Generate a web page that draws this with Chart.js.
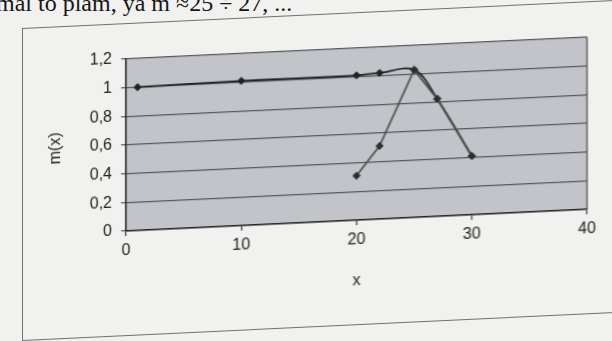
<!DOCTYPE html>
<html><head><meta charset="utf-8">
<script src="https://cdn.jsdelivr.net/npm/chart.js@4/dist/chart.umd.min.js"></script>
<style>
html,body{margin:0;padding:0;width:612px;height:341px;overflow:hidden;background:#f1f1ef;}
#page{position:absolute;left:0;top:0;width:612px;height:400px;transform:skewY(-2.7deg);transform-origin:0 0;}
#frame{position:absolute;left:22px;top:29px;width:640px;height:311px;border:1px solid #707070;border-right:none;}
#c{position:absolute;left:0;top:0;}
#txt{position:absolute;left:-4px;top:-10px;font-family:"Liberation Serif",serif;font-size:24px;color:#161616;white-space:nowrap;}
</style></head><body>
<div id="txt">mal to plam, ya m ≈25 ÷ 27, ...</div>
<div id="page"><div id="frame"></div><canvas id="c" width="612" height="400"></canvas></div>
<script>
const xTickValues = [0, 10, 20, 30, 40];
const yTickValues = [0, 0.2, 0.4, 0.6, 0.8, 1.0, 1.2];
const yTickLabels = ['0', '0,2', '0,4', '0,6', '0,8', '1', '1,2'];
const series1X = [1, 10, 20, 22, 25, 27, 30];
const series1Y = [1.0, 1.01, 1.01, 1.02, 1.03, 0.82, 0.41];
const series2X = [20, 22, 25, 27, 30];
const series2Y = [0.31, 0.51, 1.03, 0.82, 0.41];
const xTitle = 'x';
const yTitle = 'm(x)';

const pts = (xs, ys) => xs.map((x, i) => ({x: x, y: ys[i]}));
const FONT = {family: 'Liberation Sans', size: 16};

const plotBg = {
  id: 'plotBg',
  beforeDraw(ch) {
    const a = ch.chartArea, c = ch.ctx;
    c.save();
    c.fillStyle = '#c2c4c9';
    c.fillRect(a.left, a.top, a.right - a.left, a.bottom - a.top);
    c.restore();
  },
  beforeDatasetsDraw(ch) {
    const a = ch.chartArea, c = ch.ctx;
    c.save();
    c.strokeStyle = '#4a4c50';
    c.lineWidth = 1.3;
    c.beginPath();
    c.moveTo(a.right, a.top);
    c.lineTo(a.right, a.bottom);
    c.stroke();
    c.restore();
  }
};

new Chart(document.getElementById('c'), {
  type: 'scatter',
  data: {
    datasets: [
      {
        data: pts(series2X, series2Y), showLine: true, tension: 0,
        borderColor: '#474a42', borderWidth: 1.7,
        pointStyle: 'rectRot', pointRadius: 3.6,
        pointBackgroundColor: '#2c2d2c', pointBorderColor: '#2c2d2c', pointBorderWidth: 1
      },
      {
        data: pts(series1X, series1Y), showLine: true, tension: 0.35,
        borderColor: '#1f1f1f', borderWidth: 1.7,
        pointStyle: 'rectRot', pointRadius: 3.6,
        pointBackgroundColor: '#222', pointBorderColor: '#222', pointBorderWidth: 1
      }
    ]
  },
  options: {
    responsive: false, animation: false, devicePixelRatio: 1,
    layout: {padding: {left: 46, top: 65, right: 25, bottom: 93}},
    plugins: {legend: {display: false}, tooltip: {enabled: false}},
    scales: {
      x: {
        type: 'linear', min: 0, max: 40,
        afterBuildTicks(s) { s.ticks = xTickValues.map(v => ({value: v})); },
        afterFit(s) { s.height = 70; },
        grid: {drawOnChartArea: false, drawTicks: true, tickLength: 5, color: '#333', lineWidth: 1.2},
        border: {color: '#262626', width: 1.6},
        ticks: {color: '#1c1c1c', font: FONT, padding: 5, maxRotation: 0},
        title: {display: true, text: xTitle, color: '#1c1c1c', font: FONT, padding: 0}
      },
      y: {
        type: 'linear', min: 0, max: 1.2,
        afterBuildTicks(s) { s.ticks = yTickValues.map(v => ({value: v})); },
        afterFit(s) { s.width = 80; },
        grid: {drawTicks: true, tickLength: 5, color: '#55585d', lineWidth: 1.2},
        border: {color: '#262626', width: 1.6},
        ticks: {color: '#1c1c1c', font: FONT, padding: 9, callback: (v, i) => yTickLabels[i]},
        title: {display: true, text: yTitle, color: '#1c1c1c', font: FONT, padding: 0}
      }
    }
  },
  plugins: [plotBg]
});
</script>
</body></html>
